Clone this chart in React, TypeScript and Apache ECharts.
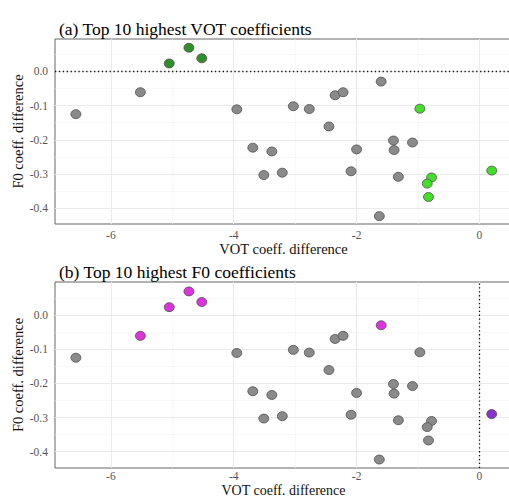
import React, { useEffect, useRef } from "react";
import * as echarts from "echarts";

// VOT coefficient difference (x) and F0 coefficient difference (y) for each item
const vot = [-6.57, -5.52, -5.05, -4.73, -4.52, -3.95, -3.69, -3.38, -3.51, -3.21, -3.03, -2.77, -2.45, -2.35, -2.22, -2.0, -2.09, -1.6, -1.63, -1.4, -1.39, -1.32, -1.09, -0.97, -0.78, -0.85, -0.83, 0.2];
const f0 = [-0.125, -0.061, 0.023, 0.069, 0.038, -0.111, -0.223, -0.234, -0.303, -0.296, -0.102, -0.11, -0.161, -0.07, -0.061, -0.228, -0.292, -0.03, -0.423, -0.202, -0.23, -0.308, -0.208, -0.109, -0.31, -0.328, -0.367, -0.29];

// highlighted items per panel
const topVotDark = [2, 3, 4];
const topVotLight = [23, 24, 25, 26, 27];
const topF0Magenta = [1, 2, 3, 4, 17];
const topF0Purple = [27];

const titles = ["(a) Top 10 highest VOT coefficients", "(b) Top 10 highest F0 coefficients"];
const xName = "VOT coeff. difference";
const yName = "F0 coeff. difference";

const xTicks = [-6, -4, -2, 0];
const xMinor = [-5, -3, -1];
const yTicks = [0, -0.1, -0.2, -0.3, -0.4];
const yMinor = [0.05, -0.05, -0.15, -0.25, -0.35];

const FONT = "Liberation Serif";
const DOT = "path://M10,5C10,7.76 7.76,10 5,10C2.24,10 0,7.76 0,5C0,2.24 2.24,0 5,0C7.76,0 10,2.24 10,5Z";

export default function App() {
  const ref = useRef<HTMLDivElement>(null);
  useEffect(() => {
    if (!ref.current) return;
    const chart = echarts.init(ref.current, undefined, { renderer: "svg" });

    const pts = (idx: number[]) => idx.map((i) => [vot[i], f0[i]]);
    const rest = (ex: number[]) => vot.map((_, i) => i).filter((i) => !ex.includes(i));

    const grids = [
      { left: 55, top: 39, width: 457, height: 185 },
      { left: 55, top: 282, width: 457, height: 186 },
    ];
    const yRanges = [
      [-0.446, 0.0945],
      [-0.4477, 0.0966],
    ];
    const xNameGaps = [17.5, 15];
    const xNameSizes = [14.5, 14];
    const xLabelMargins = [5, 2];

    const xAxes = grids.map((_, k) => ({
      type: "value",
      gridIndex: k,
      min: -6.91,
      max: 0.53,
      name: xName,
      nameLocation: "middle",
      nameGap: xNameGaps[k],
      nameMoveOverlap: false,
      nameTextStyle: { fontFamily: FONT, fontSize: xNameSizes[k], color: "#111" },
      axisLine: { show: false },
      axisTick: { show: true, length: 4, lineStyle: { color: "#333" }, customValues: xTicks },
      axisLabel: {
        customValues: xTicks,
        margin: xLabelMargins[k],
        fontFamily: FONT,
        fontSize: 11.5,
        color: "#555",
        formatter: (v: number) => String(v),
      },
      splitLine: { show: false },
    }));

    const yAxes = grids.map((_, k) => ({
      type: "value",
      gridIndex: k,
      min: yRanges[k][0],
      max: yRanges[k][1],
      name: yName,
      nameLocation: "middle",
      nameGap: 30,
      nameMoveOverlap: false,
      nameTextStyle: { fontFamily: FONT, fontSize: 14.5, color: "#111" },
      axisLine: { show: false },
      axisTick: { show: true, length: 4, lineStyle: { color: "#333" }, customValues: yTicks },
      axisLabel: {
        customValues: yTicks,
        margin: 7,
        fontFamily: FONT,
        fontSize: 11.5,
        color: "#555",
        formatter: (v: number) => v.toFixed(1),
      },
      splitLine: { show: false },
    }));

    const gridLines = (k: number) => [
      {
        type: "line",
        xAxisIndex: k,
        yAxisIndex: k,
        data: [],
        z: 1,
        markLine: {
          silent: true,
          z: 1,
          symbol: ["none", "none"],
          label: { show: false },
          lineStyle: { color: "#f3f3f3", width: 0.6, type: "solid" },
          data: [...xMinor.map((v) => ({ xAxis: v })), ...yMinor.map((v) => ({ yAxis: v }))],
        },
      },
      {
        type: "line",
        xAxisIndex: k,
        yAxisIndex: k,
        data: [],
        z: 1,
        markLine: {
          silent: true,
          z: 1,
          symbol: ["none", "none"],
          label: { show: false },
          lineStyle: { color: "#ebebeb", width: 1.1, type: "solid" },
          data: [...xTicks.map((v) => ({ xAxis: v })), ...yTicks.map((v) => ({ yAxis: v }))],
        },
      },
      {
        type: "line",
        xAxisIndex: k,
        yAxisIndex: k,
        data: [],
        z: 2,
        markLine: {
          silent: true,
          z: 2,
          symbol: ["none", "none"],
          label: { show: false },
          lineStyle: { color: "#111", width: 1.3, type: [1.3, 2.6] },
          data: [k === 0 ? { yAxis: 0 } : { xAxis: 0 }],
        },
      },
    ];

    const scatter = (k: number, data: number[][], fill: string, z: number) => ({
      type: "scatter",
      xAxisIndex: k,
      yAxisIndex: k,
      data,
      symbol: DOT,
      symbolSize: [10, 9],
      z,
      itemStyle: { color: fill, borderColor: "#555", borderWidth: 0.8, opacity: 1 },
    });

    chart.setOption({
      animation: false,
      backgroundColor: "#fff",
      textStyle: { fontFamily: FONT },
      title: [
        { text: titles[0], left: 54, top: 15, textStyle: { fontFamily: FONT, fontSize: 17.5, fontWeight: "normal", color: "#000" } },
        { text: titles[1], left: 54, top: 258, textStyle: { fontFamily: FONT, fontSize: 17.5, fontWeight: "normal", color: "#000" } },
      ],
      grid: grids.map((g) => ({
        ...g,
        show: true,
        borderColor: "#666",
        borderWidth: 1,
        backgroundColor: "transparent",
        containLabel: false,
        outerBoundsMode: "none",
      })),
      xAxis: xAxes,
      yAxis: yAxes,
      series: [
        ...gridLines(0),
        ...gridLines(1),
        scatter(0, pts(rest([...topVotDark, ...topVotLight])), "#8a8a8a", 3),
        scatter(0, pts(topVotDark), "#2f8f2a", 4),
        scatter(0, pts(topVotLight), "#44dd2a", 4),
        scatter(1, pts(rest([...topF0Magenta, ...topF0Purple])), "#8a8a8a", 3),
        scatter(1, pts(topF0Magenta), "#dd33dd", 4),
        scatter(1, pts(topF0Purple), "#8833cc", 4),
      ],
    });
    return () => chart.dispose();
  }, []);
  return <div ref={ref} style={{ position: "fixed", left: 0, top: 0, width: 509, height: 497 }} />;
}
